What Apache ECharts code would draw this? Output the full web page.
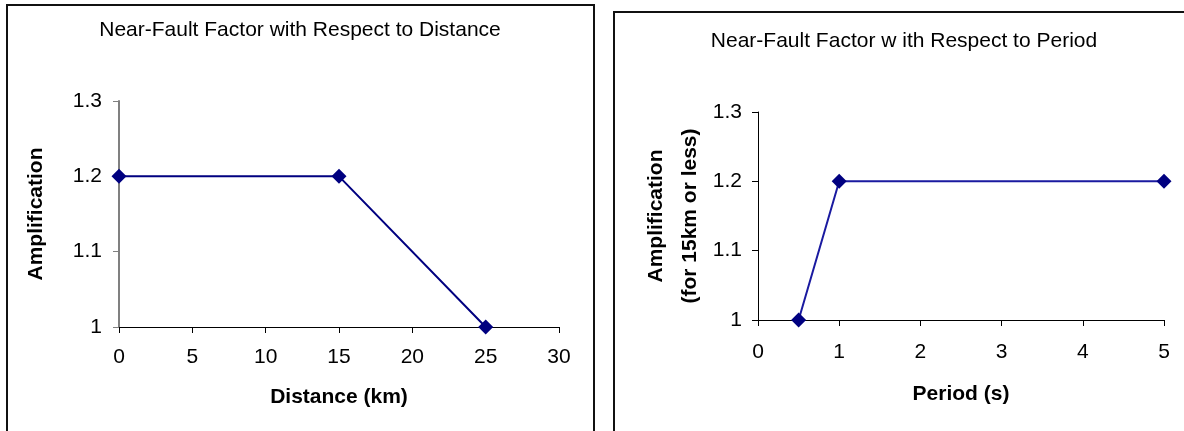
<!DOCTYPE html>
<html>
<head>
<meta charset="utf-8">
<title>Near-Fault Factor</title>
<script src="https://cdn.jsdelivr.net/npm/echarts@6/dist/echarts.min.js"></script>
<style>
  html, body { margin: 0; padding: 0; background: #fff; }
  #chart { width: 1184px; height: 431px; }
</style>
</head>
<body>
<div id="chart"></div>
<script>
// distance chart
const distanceKm = [0, 15, 25];
const ampByDistance = [1.2, 1.2, 1.0];
// period chart
const periodS = [0.5, 1, 5];
const ampByPeriod = [1.0, 1.2, 1.2];

const titles = ['Near-Fault Factor with Respect to Distance', 'Near-Fault Factor w ith Respect to Period'];
const xNames = ['Distance (km)', 'Period (s)'];
const yNames = ['Amplification', 'Amplification\n(for 15km or less)'];

const font = 'Liberation Sans, Arial, sans-serif';
const navy = '#000080';

const chart = echarts.init(document.getElementById('chart'));

function pairs(xs, ys) {
  return xs.map((x, i) => [x, ys[i]]);
}

const option = {
  backgroundColor: '#fff',
  textStyle: { fontFamily: font },
  graphic: [
    { type: 'rect', shape: { x: 7, y: 5, width: 587, height: 440 }, style: { fill: 'none', stroke: '#111', lineWidth: 2 }, silent: true },
    { type: 'rect', shape: { x: 614, y: 12, width: 600, height: 440 }, style: { fill: 'none', stroke: '#111', lineWidth: 2 }, silent: true }
  ],
  title: [
    { text: titles[0], left: 295, top: 15, textAlign: 'center',
      textStyle: { fontSize: 21, fontWeight: 'normal', color: '#000', fontFamily: font } },
    { text: titles[1], left: 899, top: 26, textAlign: 'center',
      textStyle: { fontSize: 21, fontWeight: 'normal', color: '#000', fontFamily: font } }
  ],
  grid: [
    { left: 119, right: 625, top: 101, bottom: 104 },
    { left: 758, right: 20, top: 112, bottom: 111 }
  ],
  xAxis: [
    {
      gridIndex: 0, type: 'value', min: 0, max: 30, interval: 5,
      name: xNames[0], nameLocation: 'middle', nameGap: 60,
      nameTextStyle: { fontSize: 21, fontWeight: 'bold', color: '#000', fontFamily: font },
      axisLine: { lineStyle: { color: '#000', width: 1 } },
      axisTick: { show: true, length: 6, lineStyle: { color: '#000' } },
      axisLabel: { fontSize: 21, color: '#000', margin: 20 },
      splitLine: { show: false }
    },
    {
      gridIndex: 1, type: 'value', min: 0, max: 5, interval: 1,
      name: xNames[1], nameLocation: 'middle', nameGap: 64,
      nameTextStyle: { fontSize: 21, fontWeight: 'bold', color: '#000', fontFamily: font },
      axisLine: { lineStyle: { color: '#000', width: 1 } },
      axisTick: { show: true, length: 6, lineStyle: { color: '#000' } },
      axisLabel: { fontSize: 21, color: '#000', margin: 22 },
      splitLine: { show: false }
    }
  ],
  yAxis: [
    {
      gridIndex: 0, type: 'value', min: 1, max: 1.3, interval: 0.1,
      name: yNames[0], nameLocation: 'middle', nameGap: 72, nameRotate: 90,
      nameTextStyle: { fontSize: 21, fontWeight: 'bold', color: '#000', fontFamily: font },
      axisLine: { show: true, lineStyle: { color: '#808080', width: 2 } },
      axisTick: { show: true, length: 6, lineStyle: { color: '#808080' } },
      axisLabel: { fontSize: 21, color: '#000', margin: 17 },
      splitLine: { show: false }
    },
    {
      gridIndex: 1, type: 'value', min: 1, max: 1.3, interval: 0.1,
      name: yNames[1], nameLocation: 'middle', nameGap: 51, nameRotate: 90,
      nameTextStyle: { fontSize: 21, fontWeight: 'bold', color: '#000', fontFamily: font, lineHeight: 34 },
      axisLine: { show: true, lineStyle: { color: '#000', width: 1 } },
      axisTick: { show: true, length: 6, lineStyle: { color: '#000' } },
      axisLabel: { fontSize: 21, color: '#000', margin: 16 },
      splitLine: { show: false }
    }
  ],
  series: [
    {
      name: 'distance', type: 'line', xAxisIndex: 0, yAxisIndex: 0,
      data: pairs(distanceKm, ampByDistance),
      symbol: 'diamond', symbolSize: 15, clip: false,
      lineStyle: { color: navy, width: 2 },
      itemStyle: { color: navy }
    },
    {
      name: 'period', type: 'line', xAxisIndex: 1, yAxisIndex: 1,
      data: pairs(periodS, ampByPeriod),
      symbol: 'diamond', symbolSize: 15, clip: false,
      lineStyle: { color: '#1a1aa0', width: 2 },
      itemStyle: { color: navy }
    }
  ]
};

chart.setOption(option);
</script>
</body>
</html>
